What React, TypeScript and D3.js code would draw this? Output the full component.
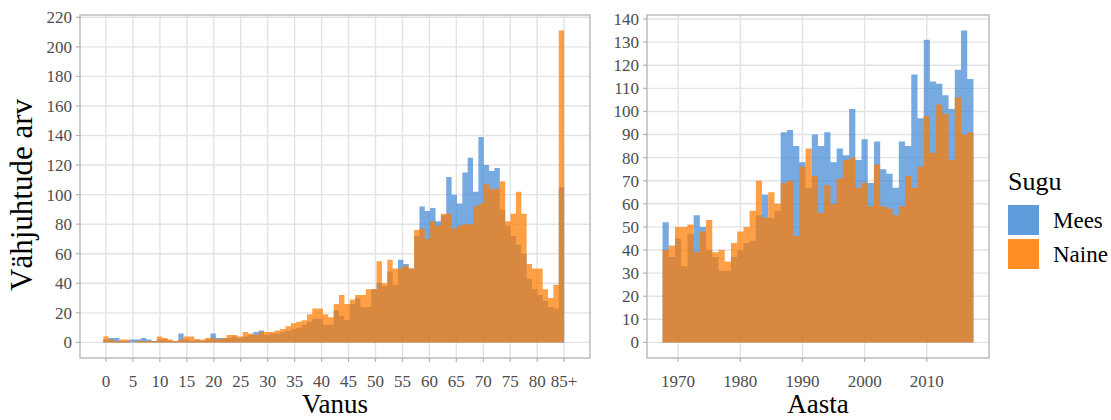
import React from 'react';
import * as d3 from 'd3';

// ---------- data ----------
const ageBins = [0,1,2,3,4,5,6,7,8,9,10,11,12,13,14,15,16,17,18,19,20,21,22,23,24,25,26,27,28,29,30,31,32,33,34,35,36,37,38,39,40,41,42,43,44,45,46,47,48,49,50,51,52,53,54,55,56,57,58,59,60,61,62,63,64,65,66,67,68,69,70,71,72,73,74,75,76,77,78,79,80,81,82,83,84,85];
const meesByAge = [2,3,3,1,1,2,2,3,2,1,2,2,1,1,6,2,1,2,1,2,6,3,3,3,4,3,4,5,7,8,5,6,6,7,8,9,10,12,14,16,16,12,12,22,18,15,26,30,24,24,36,40,38,48,39,56,53,50,72,92,89,91,82,86,112,100,94,115,125,102,139,120,116,118,90,79,72,66,60,43,36,32,28,24,23,105];
const naineByAge = [4,2,1,2,2,0,1,1,1,1,4,3,2,1,2,4,4,2,2,3,3,2,3,5,5,4,7,6,5,7,7,7,8,9,11,13,14,15,19,23,23,19,17,26,32,26,29,32,32,36,36,55,40,56,50,50,52,50,76,77,70,82,79,87,87,77,79,80,80,92,94,107,104,104,109,82,87,102,87,53,50,50,36,30,39,211];
const ageTicks = [0,5,10,15,20,25,30,35,40,45,50,55,60,65,70,75,80,85];
const ageTickLabels = ['0','5','10','15','20','25','30','35','40','45','50','55','60','65','70','75','80','85+'];
const ageYTicks = [0,20,40,60,80,100,120,140,160,180,200,220];

const years = [1968,1969,1970,1971,1972,1973,1974,1975,1976,1977,1978,1979,1980,1981,1982,1983,1984,1985,1986,1987,1988,1989,1990,1991,1992,1993,1994,1995,1996,1997,1998,1999,2000,2001,2002,2003,2004,2005,2006,2007,2008,2009,2010,2011,2012,2013,2014,2015,2016,2017];
const meesByYear = [52,37,45,33,47,55,50,40,37,31,31,37,40,43,44,55,64,54,57,91,92,85,78,67,90,85,91,78,84,81,101,79,88,69,87,75,73,67,87,85,116,97,131,113,112,107,101,118,135,114];
const naineByYear = [40,42,50,50,51,39,48,53,39,40,35,43,48,50,57,70,54,65,60,69,70,46,76,84,72,56,68,60,71,79,80,67,69,59,77,59,58,55,59,72,67,76,98,82,103,99,79,106,90,91];
const yearTicks = [1970,1980,1990,2000,2010];
const yearYTicks = [0,10,20,30,40,50,60,70,80,90,100,110,120,130,140];

const seriesNames = ['Mees','Naine'];
const legendTitle = 'Sugu';

// ---------- style ----------
const FONT = '"Liberation Serif", "Times New Roman", serif';
const BLUE = '#4189D5';
const ORANGE = '#FF7B00';
const ALPHA = 0.72;
const GRID = '#E3E3E3';
const BORDER = '#B3B3B3';
const TICKTXT = '#4D4D4D';

const L = { x0: 80, x1: 590, y0: 15, y1: 358 };
const R = { x0: 647, x1: 989, y0: 15, y1: 358 };

const xAge = d3.scaleLinear().domain([-4.82, 89.8]).range([L.x0, L.x1]);
const ageBand = d3.scaleBand<number>().domain(ageBins).range([xAge(-0.5), xAge(85)]).padding(0);
const yAge = d3.scaleLinear().domain([-10.55, 221.55]).range([L.y1, L.y0]);

const xYear = d3.scaleLinear().domain([1965, 2020]).range([R.x0, R.x1]);
const yYear = d3.scaleLinear().domain([-6.75, 141.75]).range([R.y1, R.y0]);

function agePath(vals: number[]) {
  const p = d3.path();
  ageBins.forEach((a, i) => {
    const v = vals[i];
    if (v <= 0) return;
    p.rect(ageBand(a)!, yAge(v), ageBand.bandwidth(), yAge(0) - yAge(v));
  });
  return p.toString();
}

function yearPath(vals: number[]) {
  const p = d3.path();
  years.forEach((yr, i) => {
    const v = vals[i];
    if (v <= 0) return;
    const x0 = xYear(yr - 0.5);
    const x1 = xYear(yr + 0.5);
    p.rect(x0, yYear(v), x1 - x0, yYear(0) - yYear(v));
  });
  return p.toString();
}

function Panel(props: {
  box: typeof L;
  xs: d3.ScaleLinear<number, number>;
  ys: d3.ScaleLinear<number, number>;
  xTicks: number[];
  xLabels: string[];
  yTicks: number[];
  bluePath: string;
  orangePath: string;
  title: string;
}) {
  const { box, xs, ys, xTicks, xLabels, yTicks, bluePath, orangePath, title } = props;
  const cx = (box.x0 + box.x1) / 2;
  return (
    <g>
      <rect x={box.x0} y={box.y0} width={box.x1 - box.x0} height={box.y1 - box.y0} fill="#fff" />
      {yTicks.map((t) => (
        <line key={'gy' + t} x1={box.x0} x2={box.x1} y1={ys(t)} y2={ys(t)} stroke={GRID} strokeWidth={1.4} />
      ))}
      {xTicks.map((t) => (
        <line key={'gx' + t} x1={xs(t)} x2={xs(t)} y1={box.y0} y2={box.y1} stroke={GRID} strokeWidth={1.4} />
      ))}
      <path d={bluePath} fill={BLUE} fillOpacity={ALPHA} />
      <path d={orangePath} fill={ORANGE} fillOpacity={ALPHA} />
      <rect x={box.x0} y={box.y0} width={box.x1 - box.x0} height={box.y1 - box.y0} fill="none" stroke={BORDER} strokeWidth={1.3} />
      {yTicks.map((t) => (
        <g key={'ty' + t}>
          <line x1={box.x0 - 4} x2={box.x0} y1={ys(t)} y2={ys(t)} stroke={BORDER} strokeWidth={1.2} />
          <text x={box.x0 - 8} y={ys(t)} dy="0.35em" textAnchor="end" fontSize={17} fill={TICKTXT} fontFamily={FONT}>{t}</text>
        </g>
      ))}
      {xTicks.map((t, i) => (
        <g key={'tx' + t}>
          <line x1={xs(t)} x2={xs(t)} y1={box.y1} y2={box.y1 + 4} stroke={BORDER} strokeWidth={1.2} />
          <text x={xs(t)} y={387} textAnchor="middle" fontSize={17} fill={TICKTXT} fontFamily={FONT}>{xLabels[i]}</text>
        </g>
      ))}
      <text x={cx} y={413} textAnchor="middle" fontSize={27} fill="#000" fontFamily={FONT}>{title}</text>
    </g>
  );
}

export default function App() {
  return (
    <svg width={1111} height={420} viewBox="0 0 1111 420" style={{ position: 'absolute', left: 0, top: 0, background: '#fff' }}>
      <rect x={0} y={0} width={1111} height={420} fill="#fff" />
      <Panel box={L} xs={xAge} ys={yAge} xTicks={ageTicks} xLabels={ageTickLabels} yTicks={ageYTicks}
        bluePath={agePath(meesByAge)} orangePath={agePath(naineByAge)} title="Vanus" />
      <Panel box={R} xs={xYear} ys={yYear} xTicks={yearTicks} xLabels={yearTicks.map(String)} yTicks={yearYTicks}
        bluePath={yearPath(meesByYear)} orangePath={yearPath(naineByYear)} title="Aasta" />
      <text transform={`translate(32, 195) rotate(-90)`} textAnchor="middle" fontSize={31} fill="#000" fontFamily={FONT}>Vähjuhtude arv</text>
      <text x={1008} y={190} fontSize={26} fill="#000" fontFamily={FONT}>{legendTitle}</text>
      {seriesNames.map((s, i) => (
        <g key={s}>
          <rect x={1008} y={205 + i * 34} width={31} height={30} fill={i === 0 ? BLUE : ORANGE} fillOpacity={0.85} />
          <text x={1053} y={205 + i * 34 + 15} dy="0.35em" fontSize={23} fill="#000" fontFamily={FONT}>{s}</text>
        </g>
      ))}
    </svg>
  );
}
